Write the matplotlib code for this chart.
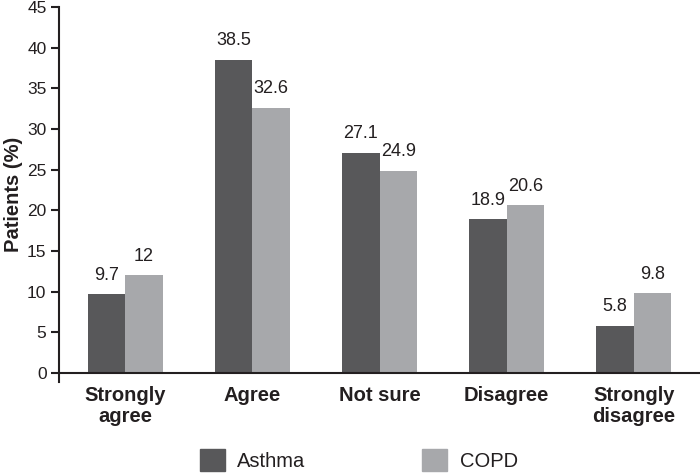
import matplotlib
matplotlib.use("Agg")
import matplotlib.pyplot as plt
import numpy as np
from matplotlib.patches import Patch

categories = ["Strongly\nagree", "Agree", "Not sure", "Disagree", "Strongly\ndisagree"]
asthma = [9.7, 38.5, 27.1, 18.9, 5.8]
copd = [12, 32.6, 24.9, 20.6, 9.8]
asthma_labels = ["9.7", "38.5", "27.1", "18.9", "5.8"]
copd_labels = ["12", "32.6", "24.9", "20.6", "9.8"]
yticks = [0, 5, 10, 15, 20, 25, 30, 35, 40, 45]

plt.rcParams['font.family'] = ['Liberation Sans', 'DejaVu Sans']
txt = '#231f20'
c_a = '#58585a'
c_c = '#a7a8ab'

fig = plt.figure(figsize=(7, 4.73), dpi=100)
ax = fig.add_axes([59/700, 1-382/473, 1-59/700, (382-7)/473])

x = np.arange(len(categories))
w = 0.295
ax.bar(x - w/2, asthma, w, color=c_a)
ax.bar(x + w/2, copd, w, color=c_c)

for xi, v, s in zip(x, asthma, asthma_labels):
    ax.text(xi - w/2, v + 1.3, s, ha='center', va='bottom', fontsize=13, color=txt)
for xi, v, s in zip(x, copd, copd_labels):
    ax.text(xi + w/2, v + 1.3, s, ha='center', va='bottom', fontsize=13, color=txt)

ax.set_xlim(-0.52, 4.52)
ax.set_ylim(-1.1, 45)
ax.spines['top'].set_visible(False)
ax.spines['right'].set_visible(False)
ax.spines['bottom'].set_position(('data', 0))
for s in ['left', 'bottom']:
    ax.spines[s].set_linewidth(1.5)
    ax.spines[s].set_color(txt)
ax.spines['left'].set_bounds(-1.1, 45)

ax.set_yticks(yticks)
ax.set_yticklabels([str(t) for t in yticks], fontsize=12.5, color=txt)
ax.tick_params(axis='y', length=6, width=1.5, color=txt, pad=3)
ax.set_xticks(x)
ax.set_xticklabels(categories, fontsize=14.5, fontweight='bold', color=txt, linespacing=1.15)
ax.tick_params(axis='x', length=0, pad=9)

ax.set_ylabel("Patients (%)", fontsize=14.5, fontweight='bold', color=txt, labelpad=3)

handles = [Patch(color=c_a, label='Asthma'), Patch(color=c_c, label='COPD')]
fig.legend(handles=handles, loc='center left', bbox_to_anchor=(200/700, 1-460/473), ncol=2,
           frameon=False, fontsize=14.5, handlelength=1.25, handleheight=1.25,
           columnspacing=5.8, handletextpad=0.6, labelcolor=txt, borderpad=0,
           borderaxespad=0)

fig.savefig("out.png", dpi=100)
